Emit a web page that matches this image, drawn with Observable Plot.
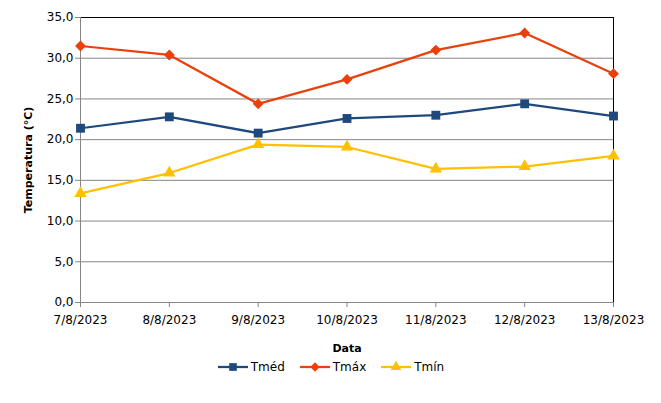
<!DOCTYPE html>
<html><head><meta charset="utf-8">
<script src="https://cdn.jsdelivr.net/npm/d3@7"></script>
<script src="https://cdn.jsdelivr.net/npm/@observablehq/plot@0.6"></script>
<style>
body{margin:0;background:#fff;font-family:"DejaVu Sans",sans-serif;}
#legend{width:661px;display:flex;justify-content:center;align-items:center;height:22px;font-size:12px;color:#000;}
.item{display:flex;align-items:center;margin:0 7px;}
.item svg{margin-right:2px;}
</style>
</head><body><div id="chart"></div><div id="legend"></div><script>
const dates = ["7/8/2023","8/8/2023","9/8/2023","10/8/2023","11/8/2023","12/8/2023","13/8/2023"];
const tmed = [21.4, 22.8, 20.8, 22.6, 23.0, 24.4, 22.9];
const tmax = [31.5, 30.4, 24.4, 27.4, 31.0, 33.1, 28.1];
const tmin = [13.4, 15.9, 19.4, 19.1, 16.4, 16.7, 18.0];
const seriesNames = ["Tméd","Tmáx","Tmín"];
const seriesColors = ["#1F497D","#E8410C","#FFC000"];
const seriesSymbols = ["square","diamond2","triangle"];
const seriesR = [5.0, 4.9, 4.6];
const yTicks = [0,5,10,15,20,25,30,35];

const values = [tmed, tmax, tmin];
const rows = seriesNames.flatMap((s, i) => dates.map((d, j) => ({series: s, date: d, value: values[i][j]})));
const fmt = d => d.toFixed(1).replace(".", ",");
const gray = "#868686";

const chart = Plot.plot({
  width: 661,
  height: 356,
  marginLeft: 80,
  marginRight: 48,
  marginTop: 17,
  marginBottom: 54,
  style: {fontFamily: "DejaVu Sans", fontSize: "12px", color: "#000", background: "#fff"},
  x: {type: "point", domain: dates, padding: 0, round: false},
  y: {domain: [0, 35]},
  color: {domain: seriesNames, range: seriesColors},
  marks: [
    Plot.gridY(yTicks, {stroke: gray, strokeOpacity: 1, strokeWidth: 1}),
    Plot.ruleY([35], {stroke: "#000", strokeWidth: 1}),
    Plot.ruleX([dates[dates.length - 1]], {stroke: "#000", strokeWidth: 1}),
    Plot.ruleX([dates[0]], {stroke: gray, strokeWidth: 1}),
    Plot.ruleY([0], {stroke: gray, strokeWidth: 1}),
    Plot.axisY(yTicks, {tickSize: 5, tickPadding: 2, tickFormat: fmt, stroke: gray, label: null, fontSize: 12}),
    Plot.axisX({tickSize: 5, tickPadding: 8, stroke: gray, label: null, fontSize: 12}),
    Plot.text(["Temperatura (°C)"], {frameAnchor: "left", dx: -52, rotate: -90, fontWeight: "bold", fontSize: 11, textAnchor: "middle", lineAnchor: "middle"}),
    Plot.text(["Data"], {frameAnchor: "bottom", dy: 46, fontWeight: "bold", fontSize: 11, textAnchor: "middle", lineAnchor: "middle"}),
    Plot.line(rows, {x: "date", y: "value", z: "series", stroke: "series", strokeWidth: 2.25}),
    ...seriesNames.map((s, i) => Plot.dot(rows.filter(r => r.series === s), {x: "date", y: "value", symbol: seriesSymbols[i], r: seriesR[i], fill: seriesColors[i], stroke: "none"}))
  ]
});
document.getElementById("chart").appendChild(chart);

const legend = d3.select("#legend");
seriesNames.forEach((s, i) => {
  const it = legend.append("div").attr("class", "item");
  const svg = it.append("svg").attr("width", 32).attr("height", 14);
  svg.append("line").attr("x1", 1).attr("x2", 31).attr("y1", 7).attr("y2", 7).attr("stroke", seriesColors[i]).attr("stroke-width", 2.25);
  const sym = {square: d3.symbolSquare, diamond2: d3.symbolDiamond2, triangle: d3.symbolTriangle}[seriesSymbols[i]];
  svg.append("path").attr("transform", "translate(16,7)").attr("d", d3.symbol(sym, Math.PI * seriesR[i] * seriesR[i] * 0.75)()).attr("fill", seriesColors[i]);
  it.append("span").text(s);
});
</script></body></html>
